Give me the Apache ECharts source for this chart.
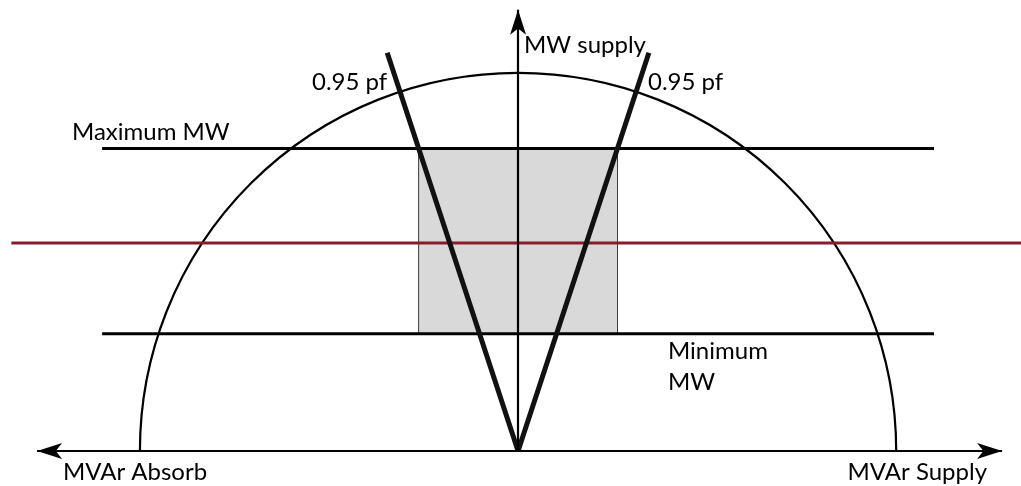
<!DOCTYPE html>
<html><head><meta charset="utf-8">
<script src="https://cdn.jsdelivr.net/npm/echarts@6/dist/echarts.min.js"></script>
<style>html,body{margin:0;padding:0;background:#fff}#c{width:1021px;height:486px}</style>
</head><body><div id="c"></div>
<script>
// Values in MVAr (x) and MW (y); generator rating = 100 MVA
const ratingMVA = [100];
const origin = [0, 0];
const maxMW = [80];
const minMW = [31];
const redLineMW = [55];
const limitLineQ = [-110, 110];
const redLineQ = [-134, 133];
const pfLeft = [[0, 0], [-34.6, 105.3]];
const pfRight = [[0, 0], [34.6, 105.3]];
const bandQ = [-26.3, 26.3];
const qAxisEnds = [-127.2, 128];
const pAxisEnd = [116.7];
const labelTexts = ['MW supply', '0.95 pf', '0.95 pf', 'Maximum MW', 'Minimum', 'MW', 'MVAr Absorb', 'MVAr Supply'];

const FONT = 'Lato';
const FS = 24;
function txt(t, x, baseline, align) {
  return { type: 'text', x: x, y: baseline - 0.3225 * FS, silent: true,
    style: { text: t, fill: '#000', font: FS + 'px ' + FONT, align: align || 'left', verticalAlign: 'middle', lineHeight: FS } };
}
const arrowEnd = { symbol: 'arrow', symbolSize: [12, 25] };

const chart = echarts.init(document.getElementById('c'), null, { renderer: 'canvas' });
chart.setOption({
  animation: false,
  grid: { left: 0, right: 0, top: 1, bottom: 1 },
  xAxis: { type: 'value', min: -137, max: 133, show: false },
  yAxis: { type: 'value', min: -9, max: 119, show: false },
  series: [
    { type: 'line', data: [], silent: true,
      markArea: { silent: true,
        itemStyle: { color: '#d9d9d9', borderColor: '#3a3a3a', borderWidth: 1 },
        data: [[{ coord: [bandQ[0], minMW[0]] }, { coord: [bandQ[1], maxMW[0]] }]] } },
    { type: 'custom', silent: true, clip: false,
      data: [[origin[0], origin[1], ratingMVA[0]]],
      renderItem: function (params, api) {
        const c = api.coord([api.value(0), api.value(1)]);
        const r = api.size([api.value(2), 0])[0];
        return { type: 'arc', shape: { cx: c[0], cy: c[1], r: r, startAngle: Math.PI, endAngle: 2 * Math.PI, clockwise: true },
          style: { fill: null, stroke: '#000', lineWidth: 2.2 } };
      } },
    { type: 'line', symbol: 'none', silent: true, lineStyle: { color: '#000', width: 3 },
      data: [[limitLineQ[0], maxMW[0]], [limitLineQ[1], maxMW[0]]] },
    { type: 'line', symbol: 'none', silent: true, lineStyle: { color: '#000', width: 3 },
      data: [[limitLineQ[0], minMW[0]], [limitLineQ[1], minMW[0]]] },
    { type: 'line', symbol: 'none', silent: true, lineStyle: { color: '#8b1a2a', width: 2.8 },
      data: [[redLineQ[0], redLineMW[0]], [redLineQ[1], redLineMW[0]]] },
    { type: 'line', data: [], silent: true,
      markLine: { silent: true, symbol: 'none', label: { show: false },
        lineStyle: { color: '#000', width: 2.2, type: 'solid' },
        data: [
          [Object.assign({ coord: [qAxisEnds[0], 0] }, arrowEnd), Object.assign({ coord: [qAxisEnds[1], 0] }, arrowEnd)],
          [{ coord: [0, 0], symbol: 'none' }, Object.assign({ coord: [0, pAxisEnd[0]] }, arrowEnd)]
        ] } },
    { type: 'line', symbol: 'none', silent: true, lineStyle: { color: '#111', width: 5 }, data: pfLeft },
    { type: 'line', symbol: 'none', silent: true, lineStyle: { color: '#111', width: 5 }, data: pfRight }
  ],
  graphic: [
    txt(labelTexts[0], 524, 53),
    txt(labelTexts[1], 312, 90),
    txt(labelTexts[2], 648, 90),
    txt(labelTexts[3], 72, 140),
    txt(labelTexts[4], 668, 359),
    txt(labelTexts[5], 668, 390),
    txt(labelTexts[6], 63, 480),
    txt(labelTexts[7], 987, 480, 'right')
  ]
});
</script></body></html>
